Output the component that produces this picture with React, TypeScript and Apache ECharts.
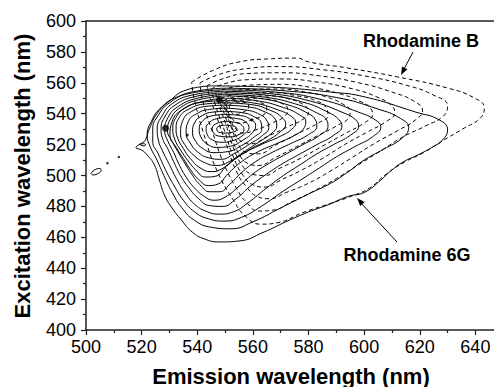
import React, { useEffect, useRef } from "react";
import * as echarts from "echarts";

type Pt = [number, number];

// Axis ticks
const xTicks = [500, 520, 540, 560, 580, 600, 620, 640];
const yTicks = [400, 420, 440, 460, 480, 500, 520, 540, 560, 580, 600];

// Rhodamine 6G contour lines (solid), inner -> outer
const r6g: Pt[][] = [
  [[550,532.5],[553,532],[554.3,530],[553,528.2],[550,527.5],[547.8,528],[547,530],[547.8,531.8],[550,532.5]],
  [[550,535],[554,534.3],[556.2,532.3],[556.8,529.5],[555,526.5],[551.5,525],[547.8,525.5],[545.8,527.8],[545.4,530.5],[546.5,533.3],[550,535]],
  [[550,537.5],[554.5,536.8],[557.5,534.5],[558.6,531],[557,527],[553.5,523],[549,521.5],[545.5,523],[543.6,526.5],[543.2,530.5],[544.5,534.5],[547,536.8],[550,537.5]],
  [[550,539.5],[555.5,538.8],[559,536.5],[561,532.5],[560,528],[556.5,523],[552,519],[547,518.2],[543.5,520.5],[541.3,525],[540.7,530],[541.8,535],[545,538.5],[550,539.5]],
  [[550,541.5],[556,540.7],[560.5,538],[563,534],[563.2,530],[560.5,525],[556,519.5],[551,515.5],[546,514.8],[542,517.5],[539.5,522],[538.3,528],[539,534],[541.8,538.8],[545.5,541],[550,541.5]],
  [[550,543.5],[557,542.5],[562.5,539.5],[565.2,535],[565.7,531],[563.5,526],[559,520.5],[553.5,514.5],[548.5,510.5],[544,511.5],[540,515.5],[537.5,521],[536,527.5],[536.8,535],[539.8,540],[544.5,542.8],[550,543.5]],
  [[550,545.5],[558,544.5],[564.5,541],[568,536.5],[568.6,532],[566.5,527],[562,521.5],[556.5,515],[551.5,509],[547,506.5],[542.5,508.5],[538.5,513.5],[535.5,520],[534,527],[534.8,535.5],[538,541.5],[543.5,544.8],[550,545.5]],
  [[550,547],[559,546],[566.5,542],[570.5,537.5],[571.8,533],[570,528.5],[565.5,523],[559,517],[553,510],[548.5,504],[545,502.5],[541,505],[537.5,511],[535,517.5],[533,524],[532.4,530],[533.5,537.5],[537,543],[543,546.3],[550,547]],
  [[550,548.5],[560,547],[569,542.5],[574,538],[575.4,534],[574,530],[570,525.5],[563,520],[556,513.5],[550.5,506],[546.5,499.5],[543,499],[539.5,503.5],[536.5,510],[534,516.5],[532,523],[531.2,530],[532.5,538],[536,544],[542,547.5],[550,548.5]],
  [[550,550],[561,548.5],[571,544],[577,539],[579,535],[578.5,531],[575,526],[569,521],[562,515.5],[556,509],[551,501],[547.5,494.5],[544,493.5],[540.5,497.5],[537.5,504],[535,511],[532.5,518],[530.2,526],[531,535],[534.5,542.5],[541,547.5],[550,550]],
  [[550,551.5],[562,550],[573,545.5],[580,540],[582.5,536],[583,532],[580,526.5],[574,521],[567,515],[561,509],[556,502],[551.5,494],[548,489.5],[544.5,489.5],[541,494],[538,501],[535.5,508],[533,515.5],[531,522],[529.3,529],[530.5,537],[534,544],[540.5,549],[550,551.5]],
  [[550,552.5],[563,551],[575,546.5],[583,540.5],[586.5,536],[587,532],[584,526],[578,520],[572,514],[566,508],[560,501],[555,493],[550,486],[546,484],[542.5,486.5],[539,492],[536,499],[533.5,507],[531.5,515],[529.5,522],[528.3,529],[529.5,537.5],[533,544.5],[540,550],[550,552.5]],
  [[550,553.5],[565,552],[578,547.5],[587,541],[591,536],[592,532],[589,526],[583,520],[577,514],[571,508],[565,501],[559,493],[554,485],[549,480],[544.5,480.5],[540.5,485],[537,492],[534,500],[531.5,509],[529.5,517],[527.5,524],[527,530],[528.5,538.5],[532,545.5],[539,551],[550,553.5]],
  [[550,554.5],[566,553],[581,548],[592,541],[597,536],[598,532],[595,526],[589,520],[583,514],[577,507],[571,500],[565,492],[558,482],[553,476.5],[548,475],[543,477],[539,481.5],[535.5,489],[532.5,498],[530,507],[527.5,516],[526,523],[525.6,530],[527.5,539],[531,546.5],[538,552],[550,554.5]],
  [[550,555.5],[568,554],[585,549],[598,541],[604,536],[606,531.5],[603,525],[597,519],[590,512],[584,505],[578,498],[571,490],[563,480],[556,473],[550,470.5],[544,472],[539,476.5],[535,484],[531.5,494],[528.5,504],[526,514],[524,522],[524,530],[526,539],[530,547],[537,553],[550,555.5]],
  [[550,556.5],[570,555],[590,550.5],[605,543],[613,537],[616,531],[613.5,524],[607,517],[600,510],[594,502],[588,495],[580,488],[570,479],[560,470],[552,465.5],[545,466.5],[539,471],[534.5,479],[531,489],[528,500],[525.5,510],[523,519],[522,526],[523.5,535],[527,544],[533,551],[541,555],[550,556.5]],
  [[545.4,558],[564.6,557.3],[588,554],[600.4,550.8],[618.6,541],[627,536],[630,529.5],[628.2,523],[624.6,518.4],[619.3,513.3],[614,508.7],[609.6,503],[606,497],[600,489],[594.3,486.5],[587,481],[580,476.4],[571.8,470],[564,463.4],[555,457.6],[548,457],[542.5,459],[538.2,463.4],[534.3,471.2],[530.7,479.6],[528.2,487.4],[526.4,497],[524.6,506.8],[522,513.3],[520,516.5],[518,518],[520.5,521.5],[521.4,523],[522.9,530.7],[525.7,540.5],[530,548.2],[536,555.3],[545.4,558]],
];

// Small isolated solid contours
const r6gSmall: Pt[][] = [
  [[519.3,520.3],[520.8,520.6],[521.5,519.8],[520.6,519.2],[519.3,520.3]],
  [[501.8,501.3],[503,503.5],[505,504.6],[505.4,503.3],[504,501],[502.5,500.4],[501.8,501.3]],
];

// Rhodamine B contour lines (dashed), outer -> inner
const rhB: Pt[][] = [
  [[538,560.5],[546,568.3],[555,573.5],[566,575.5],[576,576],[580,573.5],[594,569.6],[612,563.8],[630,556.6],[639.6,550.2],[643.2,543.7],[641.8,537.2],[636,530.7],[627.5,521.7],[621.8,515.2],[614.6,508.7],[608,501],[602,492],[596,487],[588,482],[578,476],[569,469.5],[563,468.5],[558,472.5],[553,484],[547,503.5],[542.5,526],[539,549],[538,560.5]],
  [[541,560],[548,565.5],[557,569],[570,570.5],[585,568.5],[600,564.5],[615,558.5],[625,552],[630,545],[628.5,538.5],[622,532],[614,525],[606,516],[598,507],[590,498],[582,490],[574,483],[567,477.5],[562,477],[558,482],[554,492],[549.5,508],[545.5,528],[542,548],[541,560]],
  [[543.5,558],[549,562.5],[558,566],[570,566.5],[584,564.5],[598,560],[610,554],[618,548],[621,542],[618.5,536],[612,529],[604,521],[596,512],[588,503],[580,495],[572,489],[566,485],[561.5,486.5],[558,492],[554,503],[550.5,520],[547,538],[544.5,551],[543.5,558]],
  [[545,556],[550,559.5],[558,562],[570,562.5],[583,560.5],[596,556],[605,550.5],[610,545],[611,540.5],[608,535],[601,528],[593,520],[585,511],[577,503],[570,497],[564.5,492.5],[560,494],[556.5,500],[553,512],[550,528],[547,543],[545,556]],
  [[546.5,554],[551,556.5],[559,558.5],[570,559],[581,557],[591,553],[598.5,548],[602.5,543],[603,539.5],[600,534],[593,527],[585,519],[577,511],[570,505],[564,500],[559.5,501],[556,507],[553,518],[550.5,532],[548,545],[546.5,554]],
  [[547.5,552],[552,554.2],[559,555.7],[569,556],[579,554],[587,550.5],[592.5,546],[595,541.5],[594.5,537.5],[590.5,532.5],[583,525.5],[575,518],[568,511.5],[562,506.5],[558,508],[555,514],[552.5,524],[550.5,536],[548.5,546],[547.5,552]],
  [[548.5,550],[552.5,552],[559,553.3],[567.5,553.5],[576,551.5],[582.5,548.5],[586.5,543.5],[587,539],[583.5,534],[576,527],[568.5,520],[561.5,514],[557.5,515],[554.5,521],[552.5,530],[550.5,540],[548.5,550]],
  [[549.5,548.5],[553,550.5],[559,551.3],[566,551.5],[573,549.5],[578,546],[580,541.5],[578.5,537],[572.5,531.5],[565.5,525.5],[559,520.5],[555.5,522.5],[553,529],[551.5,537],[550,544],[549.5,548.5]],
  [[550,547.5],[553.5,549.3],[559,550],[565,549.5],[570,547],[572.5,543],[571.5,538.5],[567,534],[561,529.5],[556.5,527.5],[553.5,531],[552,537],[550.5,543],[550,547.5]],
  [[550.5,546.5],[553.5,548.3],[558.5,548.8],[563,547],[565,543.5],[564,539.5],[559.5,536],[555,533.8],[552.5,537],[551,542],[550.5,546.5]],
  [[551.5,545.5],[554,547.5],[557.5,547.3],[558.5,544.5],[556.5,541],[553.5,539.5],[552,542],[551.5,545.5]],
];

// Isolated dots and dark blobs
const dots: Pt[] = [[507.7, 508], [511.8, 512]];
const blobs: Pt[] = [[528.6, 530.6], [548, 549]];
const specks: Pt[] = [[536.4, 526.2], [559.6, 536]];

const FONT = "'Liberation Sans', Arial, Helvetica, sans-serif";

export default function App() {
  const ref = useRef<HTMLDivElement>(null);
  useEffect(() => {
    if (!ref.current) return;
    const chart = echarts.init(ref.current, null, { renderer: "svg" });
    const lineSeries = (data: Pt[], dashed: boolean) => ({
      type: "line",
      data,
      symbol: "none",
      showSymbol: false,
      smooth: 0.5,
      silent: true,
      lineStyle: { color: "#000", width: 1, type: dashed ? [4, 3] : "solid" },
      z: dashed ? 3 : 2,
    });
    const series: any[] = [
      ...r6g.map((d) => lineSeries(d, false)),
      ...r6gSmall.map((d) => lineSeries(d, false)),
      ...rhB.map((d) => lineSeries(d, true)),
      { type: "scatter", data: dots, symbolSize: 2.5, itemStyle: { color: "#000" }, silent: true },
      { type: "scatter", data: blobs, symbolSize: 7, itemStyle: { color: "#000" }, silent: true },
      { type: "scatter", data: specks, symbolSize: 3, itemStyle: { color: "#000" }, silent: true },
    ];
    const axisCommon = {
      axisLine: { show: true, lineStyle: { color: "#222", width: 1.5 } },
      splitLine: { show: false },
    };
    chart.setOption({
      animation: false,
      grid: { left: 86, right: 0, top: 21, bottom: 57, containLabel: false },
      xAxis: [
        {
          type: "value",
          min: 500,
          max: 660,
          interval: 20,
          position: "bottom",
          ...axisCommon,
          axisTick: { show: true, inside: false, length: 5, lineStyle: { color: "#222", width: 1.2 } },
          minorTick: { show: true, splitNumber: 2, length: 3, lineStyle: { color: "#222", width: 1.2 } },
          axisLabel: {
            fontSize: 18,
            color: "#000",
            fontFamily: FONT,
            margin: 8,
            formatter: (v: number) => (xTicks.includes(v) ? String(v) : ""),
          },
        },
        {
          type: "value",
          min: 500,
          max: 660,
          position: "top",
          ...axisCommon,
          axisTick: { show: false },
          axisLabel: { show: false },
        },
      ],
      yAxis: {
        type: "value",
        min: 400,
        max: 600,
        interval: 20,
        ...axisCommon,
        axisTick: { show: true, inside: false, length: 5, lineStyle: { color: "#222", width: 1.2 } },
        minorTick: { show: true, splitNumber: 2, length: 3, lineStyle: { color: "#222", width: 1.2 } },
        axisLabel: {
          fontSize: 18,
          color: "#000",
          fontFamily: FONT,
          margin: 10,
          formatter: (v: number) => (yTicks.includes(v) ? String(v) : ""),
        },
      },
      graphic: [
        {
          type: "text",
          x: 291,
          y: 376,
          style: {
            text: "Emission wavelength (nm)",
            font: `bold 22px ${FONT}`,
            fill: "#000",
            textAlign: "center",
            textVerticalAlign: "middle",
          },
        },
        {
          type: "text",
          x: 22,
          y: 176,
          rotation: Math.PI / 2,
          style: {
            text: "Excitation wavelength (nm)",
            font: `bold 22px ${FONT}`,
            fill: "#000",
            textAlign: "center",
            textVerticalAlign: "middle",
          },
        },
        {
          type: "text",
          x: 421,
          y: 41,
          style: {
            text: "Rhodamine B",
            font: `bold 18px ${FONT}`,
            fill: "#000",
            textAlign: "center",
            textVerticalAlign: "middle",
          },
        },
        {
          type: "text",
          x: 407,
          y: 255,
          style: {
            text: "Rhodamine 6G",
            font: `bold 18px ${FONT}`,
            fill: "#000",
            textAlign: "center",
            textVerticalAlign: "middle",
          },
        },
        { type: "line", shape: { x1: 413, y1: 52, x2: 404, y2: 69 }, style: { stroke: "#000", lineWidth: 1 } },
        { type: "polygon", shape: { points: [[401, 75], [407.4, 69.3], [402, 66.5]] }, style: { fill: "#000" } },
        { type: "line", shape: { x1: 397, y1: 242, x2: 361, y2: 203 }, style: { stroke: "#000", lineWidth: 1 } },
        { type: "polygon", shape: { points: [[357, 198], [364.6, 201.9], [360.2, 205.9]] }, style: { fill: "#000" } },
      ],
      series,
    });
    return () => chart.dispose();
  }, []);
  return (
    <div
      ref={ref}
      style={{ position: "fixed", left: 0, top: 0, width: 534, height: 387, background: "#fff" }}
    />
  );
}
